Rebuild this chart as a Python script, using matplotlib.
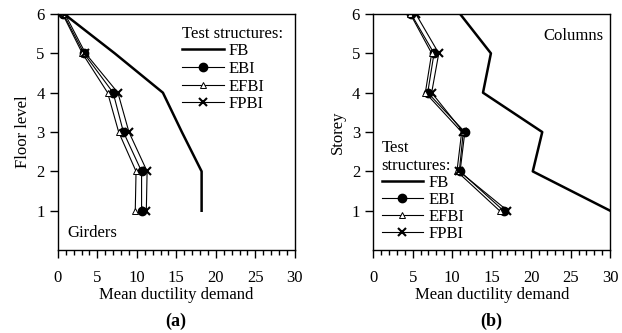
import matplotlib
matplotlib.use("Agg")
from matplotlib import pyplot as plt
from matplotlib.ticker import MultipleLocator

plt.rcParams['font.family'] = ['Liberation Serif', 'DejaVu Serif']
plt.rcParams['font.size'] = 12

floors = [6, 5, 4, 3, 2, 1]

# Girders - mean ductility demand per floor
g_fb = [0.8, 7.2, 13.3, 15.7, 18.2, 18.2]
g_ebi = [0.7, 3.3, 7.0, 8.3, 10.6, 10.6]
g_efbi = [0.6, 3.1, 6.3, 7.7, 9.9, 9.8]
g_fpbi = [0.9, 3.5, 7.6, 9.0, 11.3, 11.2]

# Columns - mean ductility demand per storey
c_fb = [11.0, 14.9, 13.9, 21.4, 20.2, 30.0]
c_ebi = [4.8, 7.7, 6.9, 11.6, 11.0, 16.5]
c_efbi = [4.7, 7.4, 6.6, 11.2, 10.6, 16.0]
c_fpbi = [5.4, 8.3, 7.4, 11.4, 10.9, 17.0]

names = ['FB', 'EBI', 'EFBI', 'FPBI']

fig = plt.figure(figsize=(6.22, 3.33), dpi=100)
ax1 = fig.add_axes([0.093, 0.249, 0.381, 0.709])
ax2 = fig.add_axes([0.600, 0.249, 0.381, 0.709])


def draw(ax, fb, ebi, efbi, fpbi):
    ax.plot(fb, floors, color='black', lw=1.8, label=names[0])
    ax.plot(ebi, floors, color='black', lw=0.8, marker='o', ms=6, label=names[1])
    ax.plot(efbi, floors, color='black', lw=0.8, marker='^', ms=4.5,
            mfc='white', mew=0.7, label=names[2])
    ax.plot(fpbi, floors, color='black', lw=0.8, marker='x', ms=5.5, mew=1.5, label=names[3])
    ax.set_xlim(0, 30)
    ax.set_ylim(0, 6)
    ax.set_yticks([1, 2, 3, 4, 5, 6])
    ax.xaxis.set_major_locator(MultipleLocator(5))
    ax.xaxis.set_minor_locator(MultipleLocator(1))
    ax.tick_params(which='major', direction='out', length=6, width=1)
    ax.tick_params(which='minor', direction='out', length=3.5, width=1)
    ax.tick_params(axis='x', pad=8)
    for s in ax.spines.values():
        s.set_linewidth(1)
    ax.set_xlabel('Mean ductility demand', labelpad=1)


draw(ax1, g_fb, g_ebi, g_efbi, g_fpbi)
draw(ax2, c_fb, c_ebi, c_efbi, c_fpbi)

ax1.set_ylabel('Floor level', labelpad=4)
ax2.set_ylabel('Storey', labelpad=4)

leg1 = ax1.legend(title='Test structures:', loc='upper right', frameon=False,
                  handlelength=2.5, handletextpad=0.3, labelspacing=0.1,
                  borderaxespad=0.3, fontsize=12, title_fontsize=12,
                  alignment='left')
leg2 = ax2.legend(title='Test\nstructures:', loc='lower left', frameon=False,
                  handlelength=2.5, handletextpad=0.3, labelspacing=0.05,
                  borderaxespad=0.1, fontsize=12, title_fontsize=12,
                  alignment='left')

ax1.text(0.04, 0.04, 'Girders', transform=ax1.transAxes, ha='left', va='bottom')
ax2.text(0.97, 0.94, 'Columns', transform=ax2.transAxes, ha='right', va='top')

fig.text(0.283, 0.01, '(a)', ha='center', va='bottom', fontweight='bold', fontsize=13)
fig.text(0.790, 0.01, '(b)', ha='center', va='bottom', fontweight='bold', fontsize=13)

fig.savefig('out.png', dpi=100)
